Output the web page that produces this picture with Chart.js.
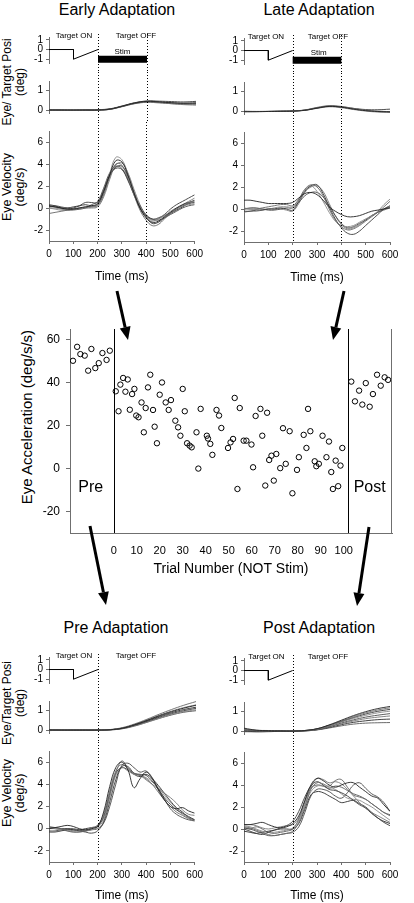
<!DOCTYPE html>
<html>
<head>
<meta charset="utf-8">
<script src="https://cdn.jsdelivr.net/npm/chart.js@4.4.1/dist/chart.umd.min.js"></script>
<style>
  body { margin: 0; background: #fff; }
  #fig { position: relative; width: 414px; height: 903px; overflow: hidden; font-family: 'Liberation Sans', Arial, sans-serif; color: #000; }
  #fig canvas { position: absolute; }
  .ttl { position: absolute; width: 200px; text-align: center; font-size: 16px; line-height: 18px; white-space: nowrap; }
  .ylab { position: absolute; width: 140px; height: 26px; text-align: center; white-space: nowrap; transform: rotate(-90deg); font-size: 12px; line-height: 13px; }
</style>
</head>
<body>
<div id="fig">
  <div class="ttl" style="left:17px;top:1px">Early Adaptation</div>
  <div class="ttl" style="left:219px;top:1px">Late Adaptation</div>
  <div class="ttl" style="left:16px;top:619px">Pre Adaptation</div>
  <div class="ttl" style="left:219px;top:619px">Post Adaptation</div>

  <div class="ylab" style="left:-56px;top:69px">Eye/ Target Posi<br>(deg)</div>
  <div class="ylab" style="left:-56px;top:174px;font-size:12.5px">Eye Velocity<br>(deg/s)</div>
  <div class="ylab" style="left:-56px;top:690px">Eye/Target Posi<br>(deg)</div>
  <div class="ylab" style="left:-56px;top:780px;font-size:12.5px">Eye Velocity<br>(deg/s)</div>
  <div class="ylab" style="left:-73px;top:408px;width:200px;height:18px;font-size:15px;line-height:18px">Eye Acceleration (deg/s/s)</div>
</div>
<script>
// time bases + ticks
const velTimes = [0,25,50,75,100,125,150,175,200,225,250,275,300,325,350,375,400,425,450,475,500,525,550,575,600];
const posTimes = [0,50,100,150,200,250,300,350,400,450,500,550,600];
const timeTicks = [0,100,200,300,400,500,600];
const tgtTimes = [0,100,100,200];
const tgtPos = [0,0,-1,0];
const stimTimes = [200,400];
const stimLevel = [-1,-1];
const tgtTicks = [1,0,-1];
const posTicks = [1,0];
const velTicks = [6,4,2,0,-2];

// Early adaptation
const earlyVel = [
  [0.2,0.1,0.0,-0.1,-0.1,0.0,0.1,0.2,0.4,1.5,3.0,4.3,4.2,3.0,1.4,0.0,-0.9,-1.3,-1.2,-0.8,-0.4,0.0,0.3,0.5,0.7],
  [-0.5,-0.4,-0.3,-0.2,-0.1,0.0,0.1,0.1,0.2,1.2,2.8,4.0,3.9,2.7,1.2,-0.2,-1.1,-1.6,-1.5,-1.0,-0.5,-0.1,0.2,0.4,0.6],
  [0.3,0.2,0.0,-0.1,0.0,0.2,0.5,0.5,0.5,1.6,3.0,3.6,3.5,2.5,1.2,0.0,-0.7,-1.0,-0.9,-0.6,-0.1,0.3,0.6,0.9,1.2],
  [0.0,-0.1,-0.2,-0.2,-0.1,0.0,0.0,0.1,0.3,1.3,3.1,4.6,4.4,3.1,1.5,0.1,-0.8,-1.2,-1.0,-0.7,-0.3,0.0,0.2,0.3,0.4],
  [0.1,0.2,0.1,0.0,-0.1,-0.1,0.0,0.3,0.6,1.8,3.2,3.8,3.6,2.6,1.3,0.2,-0.6,-1.0,-1.1,-0.9,-0.6,-0.3,0.0,0.2,0.3],
  [0.0,0.0,-0.1,-0.2,-0.2,-0.1,0.0,0.0,0.1,1.0,2.6,3.9,4.1,3.2,1.7,0.3,-0.7,-1.1,-1.0,-0.7,-0.4,-0.1,0.3,0.6,0.9],
  [0.2,0.1,0.0,0.0,0.1,0.2,0.3,0.2,0.3,1.4,2.9,3.7,3.8,2.9,1.4,0.0,-0.8,-1.4,-1.3,-0.9,-0.5,-0.2,0.1,0.4,0.5]
];
const earlyPos = [
  [0.0,0.0,0.0,0.0,0.0,0.05,0.2,0.36,0.45,0.42,0.38,0.36,0.38],
  [0.01,0.0,-0.01,0.0,0.0,0.04,0.18,0.33,0.40,0.37,0.33,0.30,0.30],
  [0.02,0.01,0.0,0.01,0.02,0.07,0.22,0.38,0.47,0.46,0.44,0.42,0.45],
  [0.0,-0.01,-0.01,0.0,0.0,0.05,0.21,0.37,0.44,0.39,0.33,0.28,0.25],
  [-0.01,0.0,0.0,0.0,0.01,0.06,0.19,0.34,0.42,0.40,0.36,0.33,0.34],
  [0.0,0.0,0.0,0.01,0.0,0.04,0.2,0.37,0.46,0.43,0.38,0.34,0.32]
];

// Late adaptation
const lateVel = [
  [0.8,0.8,0.7,0.6,0.5,0.5,0.5,0.5,0.6,1.0,1.4,1.5,1.3,0.8,0.2,-0.2,-0.5,-0.7,-0.7,-0.6,-0.4,-0.2,-0.1,0.0,0.1],
  [0.0,0.0,0.0,0.1,0.2,0.3,0.4,0.4,0.3,0.9,1.8,2.2,2.0,1.2,0.0,-1.0,-1.6,-1.9,-1.8,-1.5,-1.1,-0.7,-0.3,0.2,0.7],
  [-0.2,-0.2,-0.1,-0.1,0.0,0.0,0.1,0.0,-0.1,0.7,1.6,2.1,2.2,1.4,0.2,-0.9,-1.7,-2.2,-2.3,-2.0,-1.5,-1.0,-0.5,0.0,0.3],
  [0.1,0.0,0.0,0.0,0.0,0.1,0.2,0.2,0.2,0.8,1.7,2.1,1.6,0.7,-0.3,-1.1,-1.5,-1.6,-1.5,-1.2,-0.9,-0.6,-0.2,0.4,0.9],
  [0.0,0.1,0.1,0.0,-0.1,-0.1,0.0,0.1,0.1,0.6,1.2,1.5,1.5,1.1,0.3,-0.6,-1.3,-1.7,-1.6,-1.3,-1.0,-0.6,-0.3,0.0,0.2],
  [-0.3,-0.2,-0.2,-0.1,0.0,0.0,0.0,-0.1,-0.2,0.5,1.5,2.0,2.1,1.6,0.5,-0.6,-1.4,-1.8,-1.7,-1.4,-1.0,-0.6,-0.3,-0.1,0.1]
];
const latePos = [
  [-0.03,-0.03,-0.02,-0.01,0.0,0.04,0.15,0.24,0.20,0.10,0.02,-0.02,-0.04],
  [-0.02,-0.02,-0.01,0.0,0.01,0.06,0.19,0.28,0.24,0.14,0.05,0.0,-0.03],
  [-0.01,-0.02,-0.02,-0.01,0.0,0.05,0.16,0.25,0.22,0.14,0.08,0.07,0.10],
  [-0.04,-0.03,-0.02,-0.01,0.0,0.04,0.14,0.22,0.17,0.08,0.0,-0.05,-0.07],
  [-0.02,-0.02,-0.02,-0.01,0.01,0.05,0.17,0.26,0.21,0.11,0.03,-0.03,-0.06]
];

// Pre adaptation
const preVel = [
  [0.0,0.1,0.2,0.3,0.2,0.0,-0.1,0.0,0.2,1.5,3.8,5.5,6.0,5.3,3.7,4.5,5.1,4.6,3.5,2.6,2.0,1.8,1.9,1.6,1.4],
  [0.2,0.1,0.0,-0.2,-0.3,-0.3,-0.2,0.0,0.3,1.0,3.0,5.0,6.1,5.5,5.0,4.8,4.5,4.0,3.3,2.6,2.0,1.5,1.2,0.9,0.7],
  [-0.3,-0.3,-0.2,-0.1,-0.1,-0.2,-0.3,-0.4,-0.2,0.6,2.4,4.4,5.6,5.6,5.0,4.9,4.8,4.3,3.6,2.8,2.2,1.7,1.4,1.1,0.8],
  [0.1,0.0,-0.1,-0.2,-0.3,-0.3,-0.2,-0.1,0.1,0.8,2.8,4.8,5.5,5.2,4.9,4.8,4.6,4.2,3.8,3.0,2.4,1.8,1.3,1.0,0.8],
  [-0.2,-0.2,-0.1,0.0,0.0,-0.1,-0.2,-0.1,0.0,0.5,2.0,4.0,5.7,5.9,5.5,5.1,5.2,4.5,3.6,2.7,1.8,1.3,1.0,0.8,0.7],
  [0.0,0.0,-0.1,-0.1,-0.2,-0.2,-0.1,0.1,0.3,1.3,3.4,5.2,5.8,5.4,5.0,4.8,4.4,4.0,3.6,3.2,2.8,2.3,1.7,1.3,1.2],
  [0.1,0.1,0.0,0.0,-0.1,-0.1,0.0,0.1,0.2,1.1,3.2,5.0,5.5,5.3,4.9,4.7,4.9,4.5,3.9,3.2,2.5,1.9,1.5,1.0,0.8]
];
const prePos = [
  [0.0,0.0,0.0,0.0,0.0,0.02,0.1,0.28,0.5,0.74,0.95,1.13,1.28],
  [0.0,-0.01,0.0,0.0,0.0,0.03,0.13,0.32,0.56,0.82,1.06,1.28,1.47],
  [0.02,0.0,0.0,0.0,0.0,0.02,0.09,0.25,0.45,0.66,0.85,1.0,1.12],
  [-0.03,0.0,0.0,0.0,0.0,0.01,0.08,0.23,0.42,0.62,0.8,0.95,1.05],
  [0.0,0.0,0.0,0.0,0.0,0.01,0.07,0.21,0.4,0.6,0.78,0.92,1.0],
  [0.01,0.0,0.0,0.0,0.0,0.02,0.11,0.29,0.52,0.76,0.98,1.16,1.3],
  [-0.02,0.0,0.0,0.0,0.0,0.02,0.1,0.27,0.48,0.7,0.9,1.06,1.18]
];

// Post adaptation
const postVel = [
  [0.4,0.4,0.5,0.6,0.4,0.2,0.1,0.2,0.5,1.2,2.6,4.0,4.6,4.4,4.0,3.8,4.0,4.2,4.2,3.8,3.4,3.0,2.8,2.2,1.6],
  [0.2,0.1,-0.1,-0.3,-0.5,-0.6,-0.5,-0.4,-0.2,0.6,2.0,3.6,4.2,4.1,3.9,4.4,4.5,3.8,3.1,2.9,2.7,2.3,1.9,1.5,1.2],
  [0.0,-0.2,-0.4,-0.5,-0.3,-0.1,0.1,0.3,0.7,1.6,2.9,3.9,4.3,4.0,3.6,3.5,3.3,3.0,2.6,2.2,1.9,1.4,1.0,0.6,0.3],
  [0.3,0.2,0.0,-0.2,-0.3,-0.3,-0.2,-0.1,0.1,0.8,2.2,3.4,3.9,3.9,3.8,3.6,3.2,2.8,2.7,2.6,2.3,2.0,1.6,1.2,0.8],
  [0.1,0.0,-0.2,-0.4,-0.6,-0.6,-0.5,-0.4,-0.3,0.2,1.5,3.0,3.6,3.6,3.4,3.0,2.8,3.3,4.0,4.2,3.7,3.2,2.9,2.4,1.6],
  [0.4,0.4,0.3,0.1,0.0,0.1,0.2,0.3,0.4,1.0,2.4,3.8,4.6,4.5,4.2,4.3,4.1,3.6,3.0,2.4,1.9,1.5,1.2,0.9,0.6],
  [-0.2,-0.3,-0.4,-0.3,-0.2,-0.1,0.0,0.0,0.0,0.5,1.8,3.1,3.4,3.3,3.0,2.7,2.4,2.5,2.6,2.3,2.0,1.5,1.0,0.7,0.5],
  [0.1,0.0,0.2,0.0,-0.3,-0.4,-0.3,-0.2,0.0,0.9,2.5,3.7,4.0,3.9,3.7,3.9,3.8,3.5,3.2,3.0,2.7,2.3,1.9,1.5,1.3]
];
const postPos = [
  [0.15,0.05,0.02,0.01,0.0,0.03,0.12,0.32,0.56,0.8,1.0,1.16,1.27],
  [0.08,0.04,0.03,0.02,0.0,0.03,0.11,0.3,0.52,0.75,0.94,1.09,1.2],
  [0.0,-0.03,-0.03,-0.01,0.0,0.03,0.12,0.3,0.5,0.7,0.88,1.02,1.12],
  [-0.04,-0.03,-0.02,0.0,0.0,0.02,0.1,0.27,0.46,0.65,0.81,0.94,1.03],
  [0.05,0.02,0.0,0.0,0.0,0.02,0.09,0.24,0.42,0.58,0.72,0.82,0.9],
  [0.02,0.0,-0.01,0.0,0.0,0.02,0.08,0.22,0.38,0.52,0.64,0.72,0.78],
  [-0.02,-0.03,-0.02,-0.01,0.0,0.01,0.07,0.19,0.33,0.45,0.53,0.59,0.62],
  [0.1,0.03,0.0,0.0,0.0,0.01,0.06,0.16,0.27,0.36,0.41,0.43,0.44]
];

// acceleration per trial
const preTrials = [-17.7,-15.9,-14.5,-12.6,-11.1,-9.7,-8.0,-6.5,-4.9,-3.1,-1.7];
const preAccel = [50.2,56.7,53.3,52.6,45.6,55.7,46.8,49.1,53.8,50.6,54.9];
const adaptTrials = [0.9,2.1,2.9,4.1,5.1,6.1,7.0,8.0,9.0,9.8,10.8,12.1,13.1,13.9,14.9,15.9,17.1,17.8,18.8,20.0,
  21.0,22.6,23.9,24.9,26.8,28.0,29.0,30.0,30.9,31.9,33.0,33.9,36.0,36.8,37.8,40.5,41.0,42.0,42.9,44.7,
  45.8,46.8,49.7,50.8,51.9,52.6,53.8,54.8,56.5,57.7,59.9,60.6,61.7,63.8,64.6,65.9,66.7,67.6,68.6,69.6,
  70.7,72.4,73.6,74.8,76.5,77.7,79.7,80.5,82.6,83.8,84.5,85.5,87.4,88.1,89.2,90.8,92.5,93.6,94.6,95.3,
  96.5,97.6,98.6,99.4];
const adaptAccel = [36.0,26.7,39.1,42.2,35.8,41.5,27.4,34.7,37.1,24.7,23.9,30.8,16.9,28.2,37.8,43.7,27.3,19.5,11.8,34.4,
  40.1,30.8,27.3,31.9,22.3,19.2,15.3,37.1,26.7,11.8,10.7,9.9,16.9,0.0,27.8,15.3,14.0,11.5,6.4,27.3,
  24.7,18.9,9.6,12.2,13.8,32.9,-9.5,28.2,13.0,13.0,11.2,0.6,24.5,27.8,15.3,-7.9,26.0,4.0,6.0,-5.6,
  6.8,0.2,18.8,2.2,17.4,-11.5,-0.6,5.3,15.7,9.6,27.8,17.4,3.4,1.1,2.2,15.3,5.3,12.6,-1.6,-9.5,
  3.7,-8.2,1.4,9.6];
const postTrials = [103.3,104.9,106.7,108.1,109.6,111.3,112.7,114.5,116.1,117.8,119.3];
const postAccel = [40.5,31.3,36.3,29.8,39.8,28.8,34.7,43.7,38.6,42.5,41.3];
const phaseSplits = [0, 101.7];
const trialTicks = [0,10,20,30,40,50,60,70,80,90,100];
const accelTicks = [-20,0,20,40,60];

Chart.defaults.font.family = "'Liberation Sans', Arial, sans-serif";
Chart.defaults.color = '#000';
Chart.defaults.animation = false;
Chart.defaults.plugins.legend.display = false;
Chart.defaults.plugins.tooltip.enabled = false;

const AXIS = '#6f6f6f';
const GRAYS = ['#222', '#666', '#3a3a3a', '#888', '#4a4a4a', '#777', '#2c2c2c', '#5a5a5a'];
const fig = document.getElementById('fig');

function addCanvas(left, top, w, h) {
  const c = document.createElement('canvas');
  c.width = w; c.height = h;
  c.style.left = left + 'px'; c.style.top = top + 'px';
  c.style.width = w + 'px'; c.style.height = h + 'px';
  fig.appendChild(c);
  return c;
}

// dotted markers at target/stim times
const vlines = {
  id: 'vlines',
  afterDatasetsDraw(chart, args, o) {
    if (!o.at) return;
    const {ctx, chartArea, scales} = chart;
    ctx.save();
    ctx.strokeStyle = '#000';
    ctx.lineWidth = 1;
    ctx.setLineDash([1, 2]);
    o.at.forEach(t => {
      const x = Math.round(scales.x.getPixelForValue(t)) + 0.5;
      ctx.beginPath();
      ctx.moveTo(x, o.from == 'area' ? chartArea.top - 3 : 0);
      ctx.lineTo(x, o.to == 'area' ? chartArea.bottom : chart.height);
      ctx.stroke();
    });
    ctx.restore();
  }
};

// small text notes placed in data coords (or just above the plot)
const notes = {
  id: 'notes',
  afterDraw(chart, args, o) {
    if (!o.items) return;
    const {ctx, chartArea, scales} = chart;
    ctx.save();
    ctx.fillStyle = '#000';
    ctx.textAlign = 'center';
    ctx.textBaseline = 'middle';
    o.items.forEach(n => {
      ctx.font = (n.size || 8) + "px 'Liberation Sans', Arial, sans-serif";
      const x = scales.x.getPixelForValue(n.x);
      const y = n.y != null ? scales.y.getPixelForValue(n.y) : chartArea.top + n.dy;
      ctx.fillText(n.text, x, y);
    });
    ctx.restore();
  }
};

function tickList(arr) {
  return s => { s.ticks = arr.map(v => ({value: v})); };
}

// one sub-panel: box = canvas [left, top, w, h], area = plot rect in page coords
function panel(p) {
  const [bl, bt, bw, bh] = p.box;
  const a = p.area;
  const canvas = addCanvas(bl, bt, bw, bh);
  const hasX = !!p.xTitle;

  const datasets = p.series.map((vals, i) => ({
    data: vals.map((v, j) => ({x: p.times[j], y: v})),
    borderColor: GRAYS[i % GRAYS.length],
    borderWidth: 0.9,
    pointRadius: 0,
    tension: 0.4,
    fill: false
  }));
  if (p.target) {
    datasets.push({
      data: tgtTimes.map((t, j) => ({x: t, y: tgtPos[j]})),
      borderColor: '#000', borderWidth: 1, pointRadius: 0, tension: 0
    });
  }
  if (p.stim) {
    datasets.push({
      data: stimTimes.map((t, j) => ({x: t, y: stimLevel[j]})),
      borderColor: '#000', borderWidth: 7, borderCapStyle: 'butt', pointRadius: 0, tension: 0
    });
  }

  const xScale = {
    type: 'linear', min: 0, max: 600, display: hasX,
    afterBuildTicks: tickList(timeTicks),
    grid: {display: true, drawOnChartArea: false, drawTicks: true, tickLength: 3, color: AXIS},
    border: {display: true, color: AXIS},
    ticks: {font: {size: 10}, padding: 4, maxRotation: 0, autoSkip: false}
  };
  if (hasX) {
    xScale.afterFit = s => { s.height = bt + bh - a.b; };
    xScale.title = {display: true, text: p.xTitle, font: {size: 12}, padding: {top: 0, bottom: p.titlePad}};
  }

  new Chart(canvas, {
    type: 'line',
    data: {datasets},
    options: {
      responsive: false,
      layout: {padding: {left: 0, top: a.t - bt, right: bl + bw - a.r, bottom: hasX ? 0 : bt + bh - a.b}},
      scales: {
        x: xScale,
        y: {
          type: 'linear', min: p.yMin, max: p.yMax,
          afterBuildTicks: tickList(p.yTicks),
          afterFit: s => { s.width = a.l - bl; },
          grid: {display: true, drawOnChartArea: false, drawTicks: true, tickLength: 3, color: AXIS},
          border: {display: true, color: AXIS},
          ticks: {font: {size: 10}, padding: 3}
        }
      },
      plugins: {vlines: p.vlines, notes: {items: p.notes}}
    },
    plugins: [vlines, notes]
  });
}

// four trace figures
const quads = [
  {x: 0, l: 49, r: 196, top: 37, vel: earlyVel, pos: earlyPos, marks: [200, 400], stim: true,
   on: 102, off: 355, stimAt: 300, posT: 76, posB: 119, velT: 125, velB: 241, velH: 291, tPad: 7, tgtH: 31},
  {x: 207, l: 244, r: 390, top: 38, vel: lateVel, pos: latePos, marks: [200, 400], stim: true,
   on: 90, off: 345, stimAt: 307, posT: 77, posB: 120, velT: 126, velB: 242, velH: 292, tPad: 7, tgtH: 31},
  {x: 0, l: 49, r: 196, top: 657, vel: preVel, pos: prePos, marks: [200], stim: false,
   on: 102, off: 355, posT: 696, posB: 739, velT: 745, velB: 862, velH: 903, tPad: 0, tgtH: 31},
  {x: 207, l: 244, r: 390, top: 658, vel: postVel, pos: postPos, marks: [200], stim: false,
   on: 92, off: 345, posT: 696, posB: 740, velT: 745, velB: 862, velH: 903, tPad: 0, tgtH: 31}
];

quads.forEach(q => {
  const tgtTop = q.top - 10;
  const tgtBot = Math.round((q.top + q.tgtH + q.posT) / 2);
  const posBot = Math.round((q.posB + q.velT) / 2);
  const items = [
    {text: 'Target ON', x: q.on, dy: -1.5},
    {text: 'Target OFF', x: q.off, dy: -1.5}
  ];
  if (q.stim) items.push({text: 'Stim', x: q.stimAt, y: -0.2});

  panel({
    box: [q.x, tgtTop, 207, tgtBot - tgtTop],
    area: {l: q.l, r: q.r, t: q.top, b: q.top + q.tgtH},
    series: [], times: posTimes, target: true, stim: q.stim,
    yMin: -1.4, yMax: 1.3, yTicks: tgtTicks,
    vlines: {at: q.marks, from: 'area', to: 'bottom'},
    notes: items
  });
  panel({
    box: [q.x, tgtBot, 207, posBot - tgtBot],
    area: {l: q.l, r: q.r, t: q.posT, b: q.posB},
    series: q.pos, times: posTimes,
    yMin: -0.15, yMax: 1.5, yTicks: posTicks,
    vlines: {at: q.marks, from: 'top', to: 'bottom'}
  });
  panel({
    box: [q.x, posBot, 207, q.velH - posBot],
    area: {l: q.l, r: q.r, t: q.velT, b: q.velB},
    series: q.vel, times: velTimes,
    yMin: -3, yMax: 7, yTicks: velTicks,
    xTitle: 'Time (ms)', titlePad: q.tPad,
    vlines: {at: q.marks, from: 'top', to: 'area'}
  });
});

// acceleration scatter
const phaseBox = {
  id: 'phaseBox',
  afterDatasetsDraw(chart, args, o) {
    const {ctx, chartArea: ca, scales: {x, y}} = chart;
    ctx.save();
    ctx.lineWidth = 1;
    ctx.strokeStyle = '#000';
    phaseSplits.forEach(t => {
      const px = Math.round(x.getPixelForValue(t)) + 0.5;
      ctx.beginPath(); ctx.moveTo(px, ca.top); ctx.lineTo(px, ca.bottom); ctx.stroke();
    });
    ctx.strokeStyle = AXIS;
    const rx = Math.round(ca.right) - 0.5;
    ctx.beginPath(); ctx.moveTo(rx, ca.top); ctx.lineTo(rx, ca.bottom); ctx.stroke();
    ctx.fillStyle = '#000';
    ctx.font = "16px 'Liberation Sans', Arial, sans-serif";
    ctx.textAlign = 'center';
    ctx.textBaseline = 'middle';
    o.labels.forEach(l => ctx.fillText(l.text, x.getPixelForValue(l.x), y.getPixelForValue(l.y)));
    ctx.restore();
  }
};

const ptStyle = {pointRadius: 2.7, pointBorderWidth: 1, pointBorderColor: '#000', pointBackgroundColor: 'rgba(0,0,0,0)', showLine: false};
const sc = addCanvas(0, 300, 414, 290);
new Chart(sc, {
  type: 'scatter',
  data: {
    datasets: [
      {data: preTrials.map((t, i) => ({x: t, y: preAccel[i]})), ...ptStyle},
      {data: adaptTrials.map((t, i) => ({x: t, y: adaptAccel[i]})), ...ptStyle},
      {data: postTrials.map((t, i) => ({x: t, y: postAccel[i]})), ...ptStyle}
    ]
  },
  options: {
    responsive: false,
    layout: {padding: {left: 0, top: 29, right: 22, bottom: 0}},
    scales: {
      x: {
        type: 'linear', min: -19, max: 121,
        afterBuildTicks: tickList(trialTicks),
        afterFit: s => { s.height = 57; },
        grid: {display: true, drawOnChartArea: false, drawTicks: false},
        border: {display: true, color: AXIS},
        ticks: {font: {size: 11}, padding: 11, maxRotation: 0, autoSkip: false},
        title: {display: true, text: 'Trial Number (NOT Stim)', font: {size: 14}, padding: {top: 0, bottom: 12}}
      },
      y: {
        type: 'linear', min: -30, max: 65,
        afterBuildTicks: tickList(accelTicks),
        afterFit: s => { s.width = 70; },
        grid: {display: true, drawOnChartArea: false, drawTicks: true, tickLength: 4, color: AXIS},
        border: {display: true, color: AXIS},
        ticks: {font: {size: 12}, padding: 6}
      }
    },
    plugins: {phaseBox: {labels: [{text: 'Pre', x: -10, y: -9}, {text: 'Post', x: 111.3, y: -9}]}}
  },
  plugins: [phaseBox]
});

// arrows linking the panels
const ov = addCanvas(0, 0, 414, 903);
ov.style.pointerEvents = 'none';
const octx = ov.getContext('2d');
function arrow(x1, y1, x2, y2) {
  const ang = Math.atan2(y2 - y1, x2 - x1);
  const L = 13, W = 5.5;
  const bx = x2 - L * Math.cos(ang), by = y2 - L * Math.sin(ang);
  octx.strokeStyle = '#000';
  octx.fillStyle = '#000';
  octx.lineWidth = 3;
  octx.beginPath(); octx.moveTo(x1, y1); octx.lineTo(bx, by); octx.stroke();
  octx.beginPath();
  octx.moveTo(x2, y2);
  octx.lineTo(bx + W * Math.sin(ang), by - W * Math.cos(ang));
  octx.lineTo(bx - W * Math.sin(ang), by + W * Math.cos(ang));
  octx.closePath(); octx.fill();
}
arrow(117, 291, 128, 340);
arrow(344, 291, 333, 340);
arrow(90, 526, 106, 605);
arrow(369, 527, 357, 606);
</script>
</body>
</html>
